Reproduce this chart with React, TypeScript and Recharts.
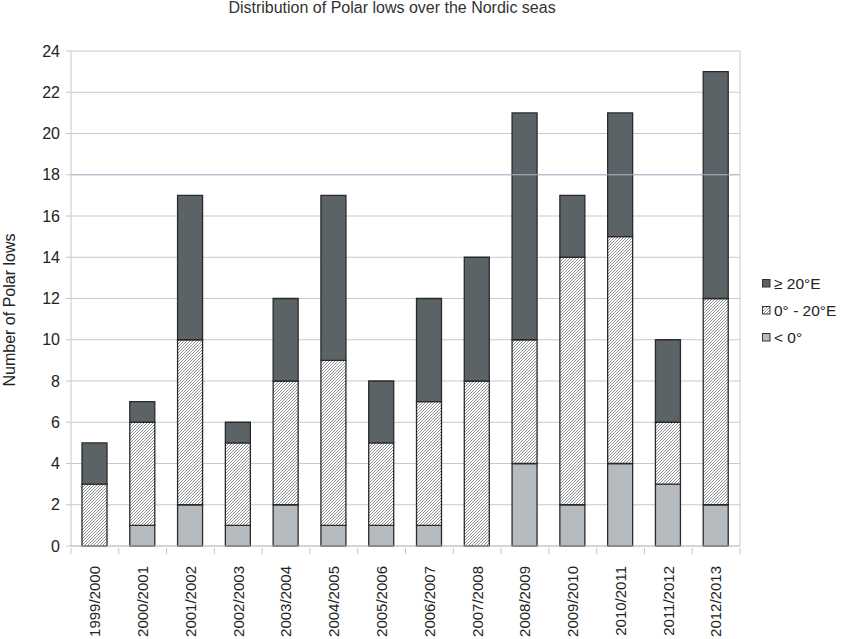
import { BarChart, Bar, XAxis, YAxis, CartesianGrid, ReferenceLine } from 'recharts';

const seasons = [
  '1999/2000', '2000/2001', '2001/2002', '2002/2003', '2003/2004', '2004/2005', '2005/2006',
  '2006/2007', '2007/2008', '2008/2009', '2009/2010', '2010/2011', '2011/2012', '2012/2013',
];
const west = [0, 1, 2, 1, 2, 1, 1, 1, 0, 4, 2, 4, 3, 2];
const middle = [3, 5, 8, 4, 6, 8, 4, 6, 8, 6, 12, 11, 3, 10];
const east = [2, 1, 7, 1, 4, 8, 3, 5, 6, 11, 3, 6, 4, 11];
const yTicks = [0, 2, 4, 6, 8, 10, 12, 14, 16, 18, 20, 22, 24];

const legendItems = [
  { label: '≥ 20°E', fill: '#5b6366' },
  { label: '0° - 20°E', fill: 'url(#hatchLegend)' },
  { label: '< 0°', fill: '#b6bbc0' },
];

const data = seasons.map((s, i) => ({ season: s, west: west[i], middle: middle[i], east: east[i] }));

const FONT = '"Liberation Sans", Arial, Helvetica, sans-serif';
const W = 843;
const H = 639;
const LEFT = 71;
const RIGHT = 740;
const TOP = 51;
const BOTTOM = 546;
const step = (RIGHT - LEFT) / seasons.length;

const SeasonTick = (props: any) => {
  const { x, y, index, payload } = props;
  const left = x - step / 2;
  const ty = y + 12;
  return (
    <g>
      <line x1={left} y1={y - 6} x2={left} y2={y} stroke="#c3c6cb" />
      {index === seasons.length - 1 && (
        <line x1={x + step / 2} y1={y - 6} x2={x + step / 2} y2={y} stroke="#c3c6cb" />
      )}
      <text
        x={x}
        y={ty}
        transform={`rotate(-90, ${x}, ${ty})`}
        textAnchor="end"
        dy="0.36em"
        fontSize={15}
        fill="#222"
        fontFamily={FONT}
      >
        {payload.value}
      </text>
    </g>
  );
};

const LegendBox = () => (
  <div style={{ fontFamily: FONT, fontSize: 15.5, color: '#222' }}>
    <svg width={0} height={0} style={{ position: 'absolute' }}>
      <defs>
        <pattern id="hatchLegend" patternUnits="userSpaceOnUse" width={3} height={3}>
          <rect width={3} height={3} fill="#ffffff" />
          <path d="M-1,1 l2,-2 M0,3 l3,-3 M2,4 l2,-2" stroke="#808386" strokeWidth={0.9} />
        </pattern>
      </defs>
    </svg>
    {legendItems.map((it) => (
      <div key={it.label} style={{ display: 'flex', alignItems: 'center', height: 27 }}>
        <svg width={9} height={9} style={{ marginRight: 3 }}>
          <rect x={0.5} y={0.5} width={7.5} height={7.5} fill={it.fill} stroke="#333" />
        </svg>
        <span>{it.label}</span>
      </div>
    ))}
  </div>
);

export default function App() {
  return (
    <div style={{ position: 'absolute', left: 0, top: 0, width: W, height: H, background: '#fff' }}>
      <div
        style={{
          position: 'absolute',
          left: 0,
          width: 784,
          top: 0,
          textAlign: 'center',
          fontFamily: FONT,
          fontSize: 16,
          color: '#333',
          lineHeight: '16px',
        }}
      >
        Distribution of Polar lows over the Nordic seas
      </div>
      <div
        style={{
          position: 'absolute',
          left: 10,
          top: 310,
          transform: 'translate(-50%, -50%) rotate(-90deg)',
          whiteSpace: 'nowrap',
          fontFamily: FONT,
          fontSize: 16,
          color: '#222',
        }}
      >
        Number of Polar lows
      </div>
      <div style={{ position: 'absolute', left: 762, top: 270 }}>
        <LegendBox />
      </div>
      <BarChart
        width={W}
        height={H}
        data={data}
        margin={{ top: TOP, right: W - RIGHT, left: 0, bottom: 0 }}
        barSize={25}
        style={{ position: 'absolute', left: 0, top: 0 }}
      >
        <defs>
          <pattern id="hatch" patternUnits="userSpaceOnUse" width={3} height={3}>
            <rect width={3} height={3} fill="#ffffff" />
            <path d="M-1,1 l2,-2 M0,3 l3,-3 M2,4 l2,-2" stroke="#808386" strokeWidth={0.9} />
          </pattern>
        </defs>
        <CartesianGrid
          stroke="#c6c9ce"
          vertical
          verticalCoordinatesGenerator={() => [RIGHT]}
        />
        <ReferenceLine y={18} stroke="#b3b5cc" />
        <XAxis
          dataKey="season"
          height={H - BOTTOM}
          axisLine={{ stroke: '#c3c6cb' }}
          tickLine={false}
          interval={0}
          tick={<SeasonTick />}
        />
        <YAxis
          width={LEFT}
          domain={[0, 24]}
          ticks={yTicks}
          interval={0}
          axisLine={{ stroke: '#c3c6cb' }}
          tickLine={{ stroke: '#c3c6cb' }}
          tickSize={5}
          tickMargin={6}
          tick={{ fontSize: 16, fill: '#222', fontFamily: FONT }}
        />
        <Bar dataKey="west" stackId="a" fill="#b6bbc0" stroke="#2a2a2a" strokeWidth={1.3} isAnimationActive={false} />
        <Bar dataKey="middle" stackId="a" fill="url(#hatch)" stroke="#2a2a2a" strokeWidth={1.3} isAnimationActive={false} />
        <Bar dataKey="east" stackId="a" fill="#5b6366" stroke="#2a2a2a" strokeWidth={1.3} isAnimationActive={false} />
      </BarChart>
    </div>
  );
}
